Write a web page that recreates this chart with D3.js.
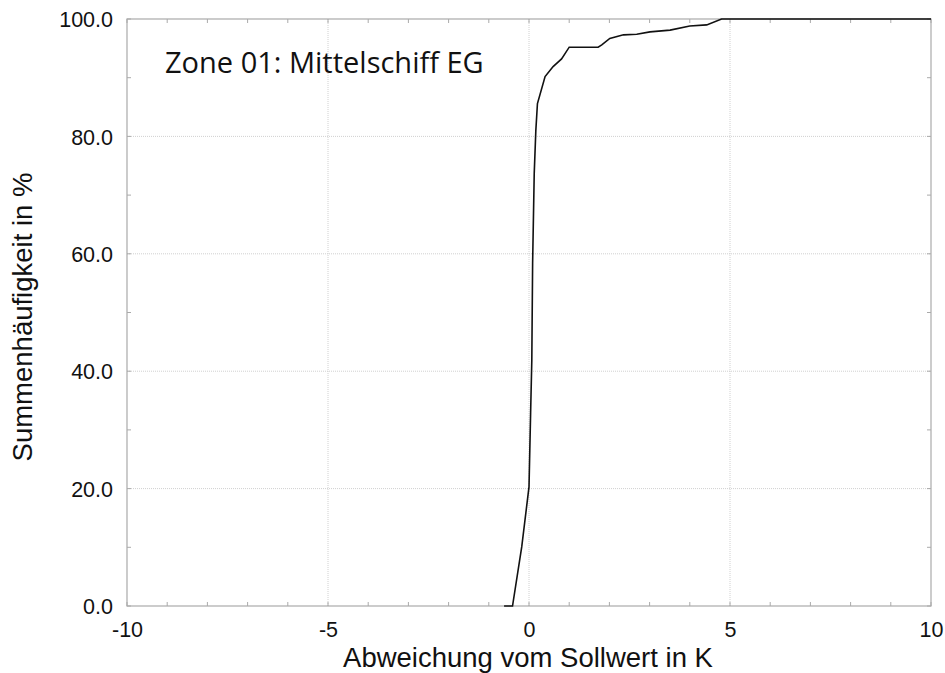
<!DOCTYPE html>
<html><head><meta charset="utf-8">
<script src="https://cdn.jsdelivr.net/npm/d3@7"></script>
<style>body{margin:0;background:#fff}svg{display:block}</style>
</head><body>
<svg id="c" width="945" height="673"></svg>
<script>
const deviation = [-0.62,-0.41,-0.18,0.0,0.04,0.07,0.09,0.13,0.17,0.21,0.40,0.60,0.81,1.0,1.72,1.81,2.01,2.35,2.68,3.01,3.51,4.0,4.42,4.79,10];
const cumulative = [0,0,10.1,20.3,32.8,41.9,58.4,73.7,81,85.6,90.2,91.9,93.2,95.2,95.2,95.6,96.7,97.3,97.4,97.8,98.1,98.8,99.0,100,100];
const xTicks = [-10,-5,0,5,10];
const yTicks = [0,20,40,60,80,100];
const title = "Zone 01: Mittelschiff EG";
const xTitle = "Abweichung vom Sollwert in K";
const yTitle = "Summenhäufigkeit in %";

const svg = d3.select("#c");
const L=127,R=931,T=19,B=606;
const x = d3.scaleLinear().domain([-10,10]).range([L,R]);
const y = d3.scaleLinear().domain([0,100]).range([B,T]);
const g = svg.append("g");
const grid="#d0d0d0";
g.selectAll(".vg").data(xTicks.slice(1,-1)).join("line")
 .attr("x1",d=>x(d)).attr("x2",d=>x(d)).attr("y1",T).attr("y2",B)
 .attr("stroke",grid).attr("stroke-dasharray","1,1");
g.selectAll(".hg").data(yTicks.slice(1,-1)).join("line")
 .attr("y1",d=>y(d)).attr("y2",d=>y(d)).attr("x1",L).attr("x2",R)
 .attr("stroke",grid).attr("stroke-dasharray","1,1");
const fc="#aaa";
const xm = d3.range(-10,10.01,1), ym = d3.range(0,100.01,10);
xm.forEach(v=>{
  g.append("line").attr("x1",x(v)).attr("x2",x(v)).attr("y1",B).attr("y2",B-4).attr("stroke",fc);
  g.append("line").attr("x1",x(v)).attr("x2",x(v)).attr("y1",T).attr("y2",T+4).attr("stroke",fc);
});
ym.forEach(v=>{
  g.append("line").attr("y1",y(v)).attr("y2",y(v)).attr("x1",L).attr("x2",L+4).attr("stroke",fc);
  g.append("line").attr("y1",y(v)).attr("y2",y(v)).attr("x1",R).attr("x2",R-4).attr("stroke",fc);
});
g.append("rect").attr("x",L).attr("y",T).attr("width",R-L).attr("height",B-T)
 .attr("fill","none").attr("stroke",fc).attr("stroke-width",1.2);
const FF="Liberation Sans, Arial, sans-serif";
const xa = svg.append("g").attr("transform",`translate(0,${B})`)
 .call(d3.axisBottom(x).tickValues(xTicks).tickSize(0).tickPadding(16).tickFormat(d=>String(d)));
xa.select(".domain").remove();
xa.selectAll("text").attr("font-family",FF).attr("font-size",21.5).attr("fill","#111");
const ya = svg.append("g").attr("transform",`translate(${L},0)`)
 .call(d3.axisLeft(y).tickValues(yTicks).tickSize(0).tickPadding(14).tickFormat(d3.format(".1f")));
ya.select(".domain").remove();
ya.selectAll("text").attr("font-family",FF).attr("font-size",21.5).attr("fill","#111").attr("dy","0.36em");
const line = d3.line().x((d,i)=>x(deviation[i])).y(d=>y(d));
svg.append("path").attr("d",line(cumulative)).attr("fill","none").attr("stroke","#111").attr("stroke-width",1.6);
svg.append("text").attr("x",528).attr("y",667).attr("text-anchor","middle")
 .attr("font-family",FF).attr("font-size",27.5).attr("fill","#111").text(xTitle);
svg.append("text").attr("transform",`translate(32,317) rotate(-90)`).attr("text-anchor","middle")
 .attr("font-family",FF).attr("font-size",27.5).attr("fill","#111").text(yTitle);
svg.append("text").attr("x",165).attr("y",73)
 .attr("font-family","Open Sans, Noto Sans, sans-serif").attr("font-size",29).attr("fill","#111").text(title);
</script>
</body></html>
